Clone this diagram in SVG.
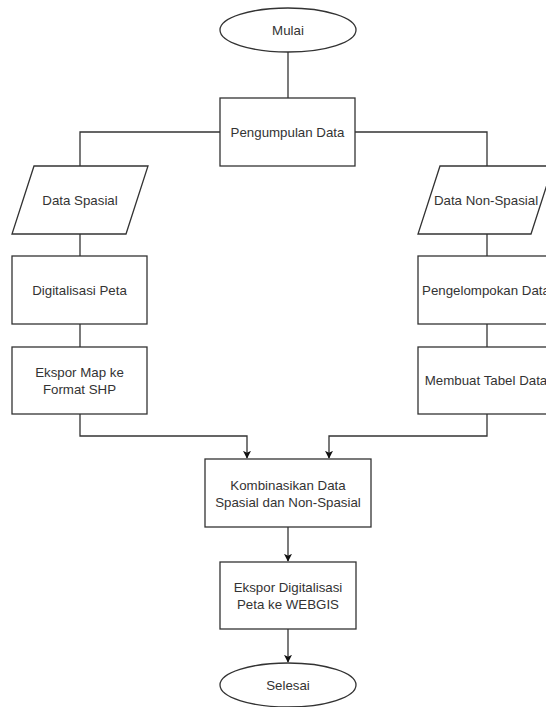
<svg xmlns="http://www.w3.org/2000/svg" width="546" height="707" viewBox="0 0 546 707">
<style>
.s{fill:#ffffff;stroke:#333333;stroke-width:1.3}
.c{fill:none;stroke:#333333;stroke-width:1.3}
text{font-family:"Liberation Sans",Arial,sans-serif;font-size:13.3px;fill:#333333;text-anchor:middle;dominant-baseline:central}
</style>
<defs>
<marker id="ah" viewBox="0 0 10 10" refX="9" refY="5" markerWidth="8" markerHeight="8" markerUnits="userSpaceOnUse" orient="auto">
<path d="M0,0 L10,5 L0,10 L2.5,5 Z" fill="#111111"/>
</marker>
</defs>
<rect width="546" height="707" fill="#ffffff"/>
<g id="connectors">
<path class="c" d="M288,52 V98"/>
<path class="c" d="M220,132 H80 V166"/>
<path class="c" d="M355,132 H487 V166"/>
<path class="c" d="M80,234 V256"/>
<path class="c" d="M80,324 V347"/>
<path class="c" d="M487,234 V256"/>
<path class="c" d="M487,324 V347"/>
<path class="c" d="M80,414 V436 H247 V458" marker-end="url(#ah)"/>
<path class="c" d="M487,414 V436 H329 V458" marker-end="url(#ah)"/>
<path class="c" d="M288,527 V561" marker-end="url(#ah)"/>
<path class="c" d="M288,629 V662" marker-end="url(#ah)"/>
</g>
<g id="mulai">
<ellipse class="s" cx="288" cy="30" rx="68" ry="22"/>
<text x="288" y="30">Mulai</text>
</g>
<g id="pengumpulan">
<rect class="s" x="220" y="98" width="135" height="68"/>
<text x="287.5" y="132">Pengumpulan Data</text>
</g>
<g id="data-spasial">
<polygon class="s" points="34,166 148,166 126,234 12,234"/>
<text x="80" y="200">Data Spasial</text>
</g>
<g id="digitalisasi">
<rect class="s" x="12" y="256" width="135" height="68"/>
<text x="79.5" y="290">Digitalisasi Peta</text>
</g>
<g id="ekspor-map">
<rect class="s" x="12" y="347" width="135" height="67"/>
<text x="79.5" y="372">Ekspor Map ke</text>
<text x="79.5" y="389">Format SHP</text>
</g>
<g id="data-non-spasial">
<polygon class="s" points="440,166 553,166 531,234 418,234"/>
<text x="486" y="200">Data Non-Spasial</text>
</g>
<g id="pengelompokan">
<rect class="s" x="418" y="256" width="135" height="68"/>
<text x="486" y="290">Pengelompokan Data</text>
</g>
<g id="membuat-tabel">
<rect class="s" x="418" y="347" width="135" height="67"/>
<text x="486" y="380.5">Membuat Tabel Data</text>
</g>
<g id="kombinasikan">
<rect class="s" x="205" y="459" width="166" height="68"/>
<text x="288" y="485">Kombinasikan Data</text>
<text x="288" y="502">Spasial dan Non-Spasial</text>
</g>
<g id="ekspor-webgis">
<rect class="s" x="220" y="562" width="136" height="67"/>
<text x="288" y="587">Ekspor Digitalisasi</text>
<text x="288" y="604">Peta ke WEBGIS</text>
</g>
<g id="selesai">
<ellipse class="s" cx="288" cy="685" rx="68" ry="22"/>
<text x="288" y="685">Selesai</text>
</g>
</svg>
